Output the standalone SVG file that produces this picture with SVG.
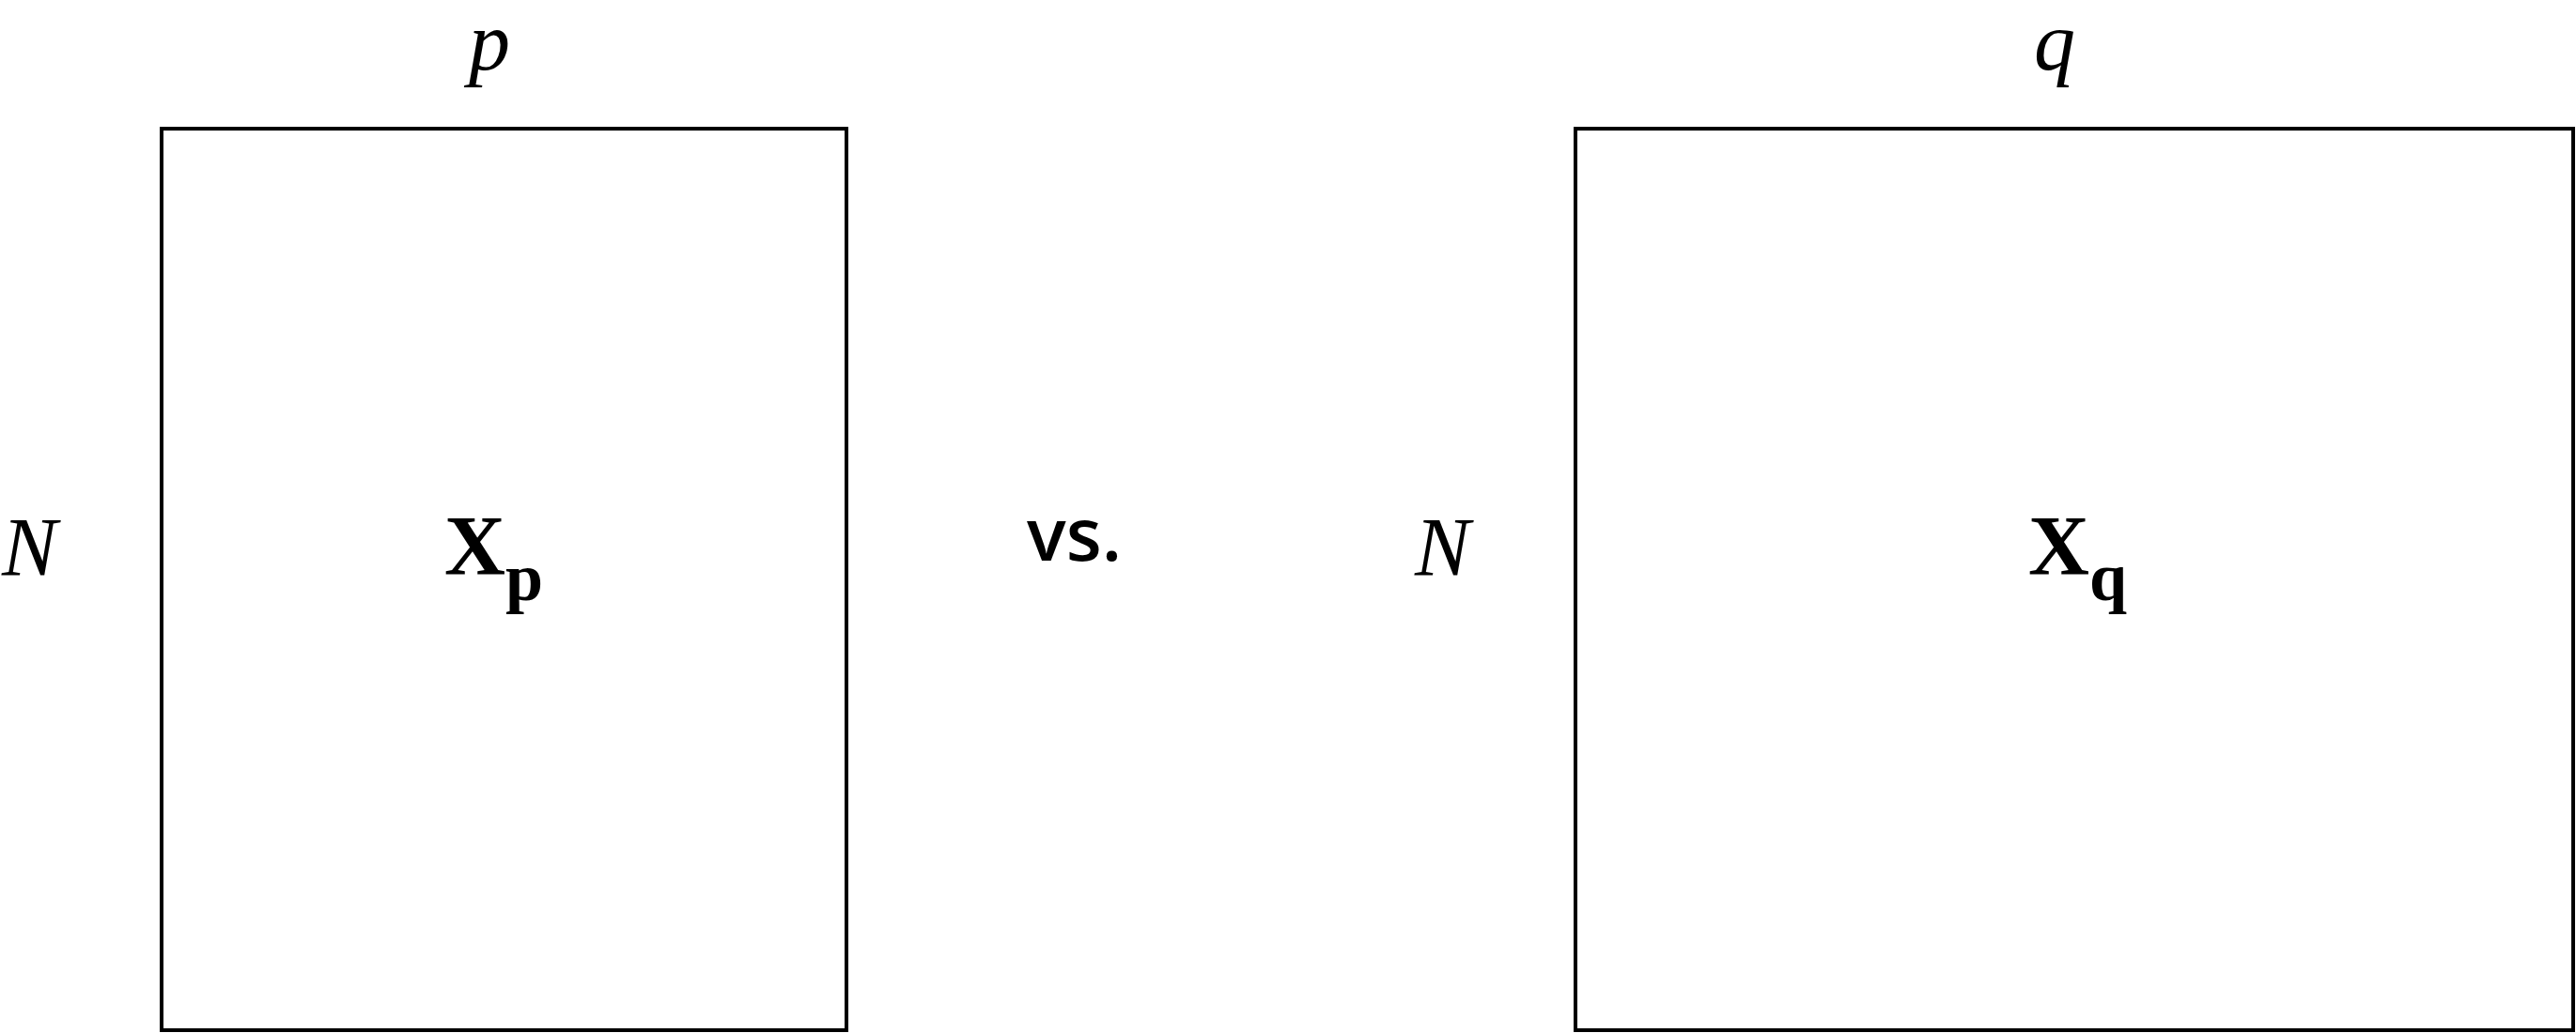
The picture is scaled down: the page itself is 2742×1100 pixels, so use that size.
<svg xmlns="http://www.w3.org/2000/svg" width="2742" height="1100" viewBox="0 0 2742 1100">
<style>
.box{fill:none;stroke:#000;stroke-width:4}
.it{font-family:"Liberation Serif","Times New Roman",serif;font-style:italic;font-size:88px;fill:#000}
.bf{font-family:"Liberation Serif","Times New Roman",serif;font-weight:bold;font-size:90px;fill:#000}
.sub{font-size:72px}
.vs{font-family:"Open Sans","Noto Sans",sans-serif;font-weight:600;font-size:78px;fill:#000}
</style>
<rect width="2742" height="1100" fill="#fff"/>
<g id="matrix-p">
<rect class="box" x="172" y="137" width="729" height="960"/>
<text class="it" x="499" y="74">p</text>
<text class="it" x="2" y="612">N</text>
<text class="bf" x="473" y="612">X<tspan class="sub" dy="27">p</tspan></text>
</g>
<g id="vs">
<text class="vs" x="1093" y="597">vs.</text>
</g>
<g id="matrix-q">
<rect class="box" x="1677" y="137" width="1062" height="960"/>
<text class="it" x="2165" y="74">q</text>
<text class="it" x="1506" y="612">N</text>
<text class="bf" x="2159" y="612">X<tspan class="sub" dy="27">q</tspan></text>
</g>
<g id="connectors"/>
</svg>
